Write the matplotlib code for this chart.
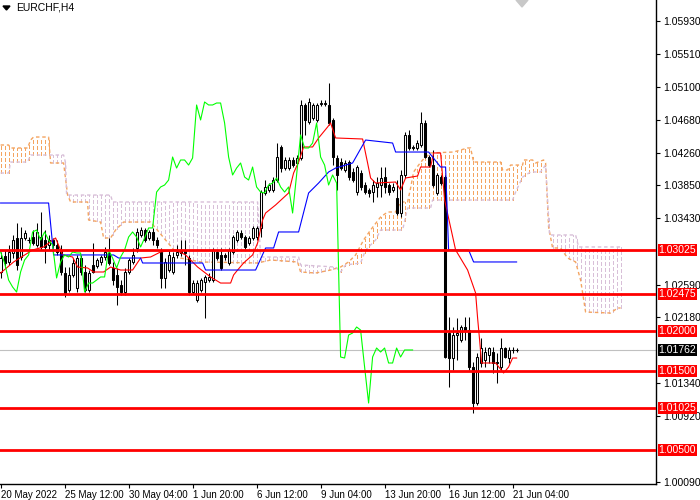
import numpy as np
import matplotlib.pyplot as plt
from matplotlib.transforms import blended_transform_factory

plt.rcParams['font.family'] = ['Liberation Sans', 'DejaVu Sans']

# EURCHF H4 candles, bar 0 = 20 May 2022
opens = [1.02750, 1.02953, 1.02877, 1.02991, 1.03181, 1.02940, 1.03181, 1.03155, 1.03193, 1.03092,
         1.03193, 1.03155, 1.03092, 1.03155, 1.03092, 1.03029, 1.02737, 1.02522, 1.02712, 1.02547,
         1.02927, 1.02750, 1.02522, 1.02839, 1.02826, 1.02877, 1.02940, 1.02991, 1.02801, 1.02712,
         1.02585, 1.02496, 1.02750, 1.02877, 1.03054, 1.03219, 1.03282, 1.03181, 1.03257, 1.03155,
         1.03004, 1.02674, 1.02775, 1.02750, 1.02966, 1.03029, 1.03029, 1.02927, 1.02496, 1.02395,
         1.02522, 1.02623, 1.02648, 1.02648, 1.03004, 1.02966, 1.02966, 1.02864, 1.03004, 1.03155,
         1.03244, 1.03193, 1.03117, 1.03181, 1.03193, 1.03308, 1.03751, 1.03789, 1.03789, 1.03915,
         1.04334, 1.04067, 1.04067, 1.04169, 1.04131, 1.04194, 1.04866, 1.04650, 1.04701, 1.04676,
         1.04879, 1.04879, 1.04866, 1.04676, 1.04194, 1.04143, 1.04042, 1.04143, 1.04017, 1.03763,
         1.04004, 1.03852, 1.03789, 1.03763, 1.03827, 1.03852, 1.03953, 1.03852, 1.03789, 1.03687,
         1.03497, 1.03979, 1.04486, 1.04334, 1.04321, 1.04359, 1.04638, 1.04207, 1.04105, 1.03751,
         1.03953, 1.03953, 1.01977, 1.01660, 1.01951, 1.01888, 1.02053, 1.02015, 1.01546, 1.01090,
         1.01597, 1.01635, 1.01698, 1.01736, 1.01609, 1.01546, 1.01787, 1.01660, 1.01762, 1.01762]
highs = [1.03004, 1.03029, 1.03092, 1.03219, 1.03371, 1.03320, 1.03282, 1.03193, 1.03282, 1.03371,
         1.03510, 1.03282, 1.03219, 1.03181, 1.03155, 1.03092, 1.02813, 1.02813, 1.02927, 1.02966,
         1.02966, 1.02839, 1.02775, 1.03117, 1.02927, 1.02966, 1.03067, 1.03181, 1.02877, 1.02801,
         1.02648, 1.02801, 1.02927, 1.03054, 1.03308, 1.03320, 1.03308, 1.03282, 1.03308, 1.03193,
         1.03054, 1.02927, 1.03029, 1.03004, 1.03092, 1.03155, 1.03155, 1.02966, 1.02648, 1.02648,
         1.02674, 1.02712, 1.02737, 1.03054, 1.03029, 1.03054, 1.02991, 1.03054, 1.03219, 1.03282,
         1.03282, 1.03219, 1.03206, 1.03333, 1.03333, 1.03789, 1.03915, 1.03877, 1.03953, 1.04384,
         1.04359, 1.04207, 1.04207, 1.04207, 1.04232, 1.04929, 1.04891, 1.04954, 1.04891, 1.04891,
         1.04929, 1.04929, 1.05144, 1.04701, 1.04232, 1.04194, 1.04169, 1.04169, 1.04067, 1.04105,
         1.04042, 1.03890, 1.03814, 1.03915, 1.03953, 1.04080, 1.04080, 1.03877, 1.03877, 1.03915,
         1.04042, 1.04524, 1.04549, 1.04359, 1.04422, 1.04777, 1.04676, 1.04232, 1.04296, 1.04004,
         1.03979, 1.03979, 1.02180, 1.02053, 1.02167, 1.02078, 1.02180, 1.02180, 1.01609, 1.01723,
         1.01913, 1.01799, 1.01799, 1.01799, 1.01723, 1.01913, 1.01799, 1.01799, 1.01799, 1.01787]
lows = [1.02674, 1.02801, 1.02839, 1.02927, 1.02775, 1.02902, 1.03155, 1.03117, 1.03092, 1.03067,
        1.03029, 1.02864, 1.03029, 1.03054, 1.02966, 1.02712, 1.02433, 1.02496, 1.02687, 1.02496,
        1.02712, 1.02496, 1.02496, 1.02737, 1.02801, 1.02839, 1.02902, 1.02839, 1.02585, 1.02332,
        1.02459, 1.02459, 1.02724, 1.02851, 1.03004, 1.03193, 1.03130, 1.03155, 1.03092, 1.03054,
        1.02547, 1.02547, 1.02750, 1.02724, 1.02927, 1.02953, 1.02839, 1.02459, 1.02471, 1.02370,
        1.02496, 1.02167, 1.02623, 1.02623, 1.02902, 1.02775, 1.02902, 1.02839, 1.02978, 1.03130,
        1.03168, 1.03041, 1.03092, 1.03155, 1.03155, 1.03193, 1.03725, 1.03763, 1.03763, 1.03890,
        1.04017, 1.04042, 1.04042, 1.04080, 1.04105, 1.04169, 1.04486, 1.04625, 1.04676, 1.04650,
        1.04853, 1.04853, 1.04612, 1.04105, 1.03789, 1.04042, 1.04017, 1.03915, 1.03890, 1.03725,
        1.03789, 1.03738, 1.03700, 1.03637, 1.03700, 1.03700, 1.03751, 1.03725, 1.03763, 1.03472,
        1.03447, 1.03941, 1.04296, 1.04296, 1.04296, 1.04334, 1.04194, 1.04080, 1.03827, 1.03725,
        1.03852, 1.01660, 1.01293, 1.01508, 1.01635, 1.01863, 1.01888, 1.01508, 1.00963, 1.01065,
        1.01546, 1.01546, 1.01597, 1.01470, 1.01343, 1.01508, 1.01660, 1.01597, 1.01723, 1.01736]
closes = [1.02927, 1.02864, 1.03004, 1.03155, 1.02839, 1.03181, 1.03244, 1.03155, 1.03117, 1.03257,
          1.03067, 1.03067, 1.03155, 1.03092, 1.03004, 1.02750, 1.02484, 1.02712, 1.02864, 1.02927,
          1.02750, 1.02522, 1.02737, 1.02750, 1.02902, 1.02940, 1.03004, 1.02864, 1.02648, 1.02560,
          1.02496, 1.02750, 1.02902, 1.02966, 1.03257, 1.03282, 1.03155, 1.03257, 1.03155, 1.03092,
          1.02674, 1.02877, 1.02966, 1.02940, 1.03004, 1.02991, 1.02991, 1.02496, 1.02610, 1.02610,
          1.02648, 1.02687, 1.02687, 1.03029, 1.02927, 1.02801, 1.02940, 1.03029, 1.03193, 1.03257,
          1.03193, 1.03067, 1.03181, 1.03308, 1.03308, 1.03763, 1.03827, 1.03852, 1.03915, 1.04207,
          1.04067, 1.04169, 1.04169, 1.04105, 1.04194, 1.04866, 1.04676, 1.04904, 1.04866, 1.04866,
          1.04891, 1.04891, 1.04638, 1.04207, 1.03979, 1.04067, 1.04131, 1.03953, 1.03915, 1.04080,
          1.03827, 1.03763, 1.03751, 1.03852, 1.03877, 1.03941, 1.03827, 1.03763, 1.03827, 1.03497,
          1.03979, 1.04486, 1.04321, 1.04321, 1.04384, 1.04638, 1.04207, 1.04105, 1.03852, 1.03979,
          1.03877, 1.01673, 1.01660, 1.01951, 1.01977, 1.02053, 1.02015, 1.01546, 1.01090, 1.01673,
          1.01787, 1.01736, 1.01787, 1.01597, 1.01597, 1.01787, 1.01673, 1.01762, 1.01762, 1.01762]

# Ichimoku lines, vertices (bar index, price)
tenkan_bar = [0, 3.25, 8, 10.75, 13.75, 15.5, 18, 19.25, 21.75, 23.25, 25.75, 27.5, 30, 33, 35, 37.5,
              40, 43.75, 46.25, 49.25, 52.5, 55, 57.5, 58.25, 59.25, 60.75, 63, 64.25, 65.5, 66.25,
              68.75, 72, 73.25, 74.5, 75.75, 78, 79.5, 81.75, 82.5, 83.75, 90.5, 91.75, 92.5, 93.75,
              98.75, 100, 101.25, 104.25, 105, 107.5, 108.25, 110, 111, 113.75, 116.75, 118.75,
              119.25, 119.75, 120.25, 123.75, 125.75, 127, 128, 129]
tenkan_val = [1.02737, 1.02877, 1.03029, 1.03067, 1.03181, 1.02966, 1.02940, 1.02813, 1.02801, 1.02750,
              1.02750, 1.02813, 1.02775, 1.02775, 1.02927, 1.02940, 1.03004, 1.03029, 1.02966, 1.02813,
              1.02687, 1.02610, 1.02610, 1.02712, 1.02775, 1.02864, 1.02966, 1.03117, 1.03409, 1.03497,
              1.03599, 1.03751, 1.04004, 1.04143, 1.04334, 1.04334, 1.04448, 1.04587, 1.04638, 1.04448,
              1.04435, 1.04131, 1.03941, 1.03877, 1.03890, 1.03789, 1.03941, 1.03966, 1.04080, 1.04080,
              1.04258, 1.04258, 1.03662, 1.03029, 1.02775, 1.02484, 1.02167, 1.01888, 1.01597, 1.01597,
              1.01470, 1.01546, 1.01660, 1.01660]
kijun_bar = [0, 12, 13.25, 28.25, 29.5, 35, 35.5, 50.5, 51.25, 63.75, 66.25, 68.25, 69.5, 74.5, 77,
             79.5, 82, 83.75, 88, 91.25, 98, 98.75, 107, 110, 111.25, 112, 117, 118.25, 129]
kijun_val = [1.03624, 1.03624, 1.02966, 1.02966, 1.02927, 1.02927, 1.02864, 1.02864, 1.02775, 1.02775,
             1.03054, 1.03054, 1.03257, 1.03257, 1.03751, 1.03877, 1.04017, 1.04067, 1.04131, 1.04422,
             1.04384, 1.04270, 1.04270, 1.04080, 1.04080, 1.03029, 1.03029, 1.02877, 1.02877]
span_a_bar = [0, 2, 2.5, 6.75, 7.5, 8.25, 12, 12.5, 15.75, 16.75, 17.5, 21.75, 22, 25, 25.75, 27.5,
              28.75, 30.75, 37.5, 41.25, 45, 50, 64.25, 67.5, 74.25, 75, 78.75, 82.5, 85, 87, 88.75,
              90.75, 92.5, 95, 96.75, 98.75, 100, 101.75, 102.5, 103.25, 104.5, 105.5, 107.5, 113.25,
              116.75, 117.5, 118.25, 125, 125.5, 126.75, 127.5, 130.5, 130.75, 133, 133.75, 135.75,
              136.25, 137, 138, 140, 141.75, 143.75, 145, 146.25, 152.5, 154.25, 155]
span_a_val = [1.04359, 1.04359, 1.04321, 1.04321, 1.04422, 1.04460, 1.04460, 1.04131, 1.04131, 1.03725,
              1.03637, 1.03637, 1.03409, 1.03383, 1.03181, 1.03181, 1.03282, 1.03383, 1.03383, 1.03155,
              1.02927, 1.02877, 1.02864, 1.02902, 1.02877, 1.02750, 1.02737, 1.02775, 1.02813, 1.02877,
              1.02966, 1.03155, 1.03282, 1.03447, 1.03510, 1.03510, 1.03637, 1.03637, 1.03814, 1.04017,
              1.04105, 1.04169, 1.04258, 1.04270, 1.04321, 1.04321, 1.04143, 1.04143, 1.04042, 1.04042,
              1.04105, 1.04105, 1.04169, 1.04169, 1.04131, 1.04169, 1.04131, 1.03320, 1.03054, 1.03054,
              1.02927, 1.02877, 1.02648, 1.02243, 1.02230, 1.02294, 1.02294]
span_b_bar = [0, 2, 2.5, 6.75, 7.5, 15.75, 16.25, 16.5, 27.5, 28, 64.25, 65, 74.5, 75, 83.75, 85,
              86.25, 90, 91.25, 93.75, 95, 100.5, 101.75, 107.5, 108, 128, 128.75, 130.5, 132.5,
              135, 136.25, 137.25, 143.75, 144.5, 155]
span_b_val = [1.04004, 1.04004, 1.04143, 1.04143, 1.04232, 1.04232, 1.04131, 1.03725, 1.03725, 1.03637,
              1.03637, 1.02940, 1.02940, 1.02839, 1.02813, 1.02750, 1.02839, 1.02864, 1.03029, 1.03155,
              1.03282, 1.03282, 1.03561, 1.03561, 1.03662, 1.03662, 1.03763, 1.03953, 1.04017, 1.04017,
              1.04105, 1.03219, 1.03219, 1.03067, 1.03067]
chikou_shift = 26

levels = [1.03025, 1.02475, 1.02000, 1.01500, 1.01025, 1.00500]
last_price = 1.01762
price_ticks = [1.05930, 1.05510, 1.05100, 1.04680, 1.04260, 1.03850, 1.03430,
               1.02590, 1.02180, 1.01340, 1.00920, 1.00090]
date_bars = [0, 16, 32, 48, 64, 80, 96, 112, 128]
date_labels = ['20 May 2022', '25 May 12:00', '30 May 04:00', '1 Jun 20:00', '6 Jun 12:00',
               '9 Jun 04:00', '13 Jun 20:00', '16 Jun 12:00', '21 Jun 04:00']

fig = plt.figure(figsize=(7, 5), dpi=100)
ax = fig.add_axes([0, 16 / 500, 656 / 700, 484 / 500])

o = np.array(opens)
h = np.array(highs)
l = np.array(lows)
c = np.array(closes)
idx = np.arange(len(o))

# kumo cloud: one dashed stroke per bar between the two spans
cx = np.arange(0, int(span_a_bar[-1]) + 1)
sa = np.interp(cx, span_a_bar, span_a_val)
sb = np.interp(cx, span_b_bar, span_b_val)
bull = sa >= sb
dash = (0, (2.5, 2))
ax.vlines(cx[bull], sb[bull], sa[bull], colors='#F4A460', linestyles=dash, lw=1.0,
          antialiased=False, zorder=1)
ax.vlines(cx[~bull], sa[~bull], sb[~bull], colors='#D8BFD8', linestyles=dash, lw=1.0,
          antialiased=False, zorder=1)
ax.plot(span_a_bar, span_a_val, color='#F4A460', ls=dash, lw=1.0, zorder=1)
ax.plot(span_b_bar, span_b_val, color='#D8BFD8', ls=dash, lw=1.0, zorder=1)

ax.axhline(last_price, color='#C0C0C0', lw=0.8, zorder=1.5)

# candles
ax.vlines(idx, l, h, color='black', lw=0.75, zorder=2)
up = c >= o
lo = np.minimum(o, c)
ht = np.abs(c - o)
ax.bar(idx[up], ht[up], bottom=lo[up], width=0.55, facecolor='white', edgecolor='black',
       lw=0.75, zorder=2.1)
ax.bar(idx[~up], ht[~up], bottom=lo[~up], width=0.55, facecolor='black', edgecolor='black',
       lw=0.75, zorder=2.1)
doji = ht < 0.00003
ax.hlines(c[doji], idx[doji] - 0.4, idx[doji] + 0.4, color='black', lw=0.75, zorder=2.2)

# tenkan, kijun, chikou
ax.plot(tenkan_bar, tenkan_val, color='red', lw=0.8, zorder=3)
ax.plot(kijun_bar, kijun_val, color='blue', lw=0.8, zorder=3)
ax.plot(idx[:-chikou_shift], c[chikou_shift:], color='#00FF00', lw=0.8, zorder=3)

# support / resistance levels
trans = blended_transform_factory(ax.transAxes, ax.transData)
for lv in levels:
    ax.axhline(lv, color='red', lw=2, zorder=4)
    ax.text(1.004, lv, f'{lv:.5f}', transform=trans, color='white', fontsize=7.5,
            va='center', ha='left', clip_on=False,
            bbox=dict(boxstyle='square,pad=0.1', fc='red', ec='none'))
ax.text(1.004, last_price, f'{last_price:.5f}', transform=trans, color='white', fontsize=7.5,
        va='center', ha='left', clip_on=False,
        bbox=dict(boxstyle='square,pad=0.1', fc='black', ec='none'))

ax.set_xlim(-0.15, 163.85)
ax.set_ylim(1.00064, 1.06196)

ax.yaxis.tick_right()
ax.set_yticks(price_ticks)
ax.set_yticklabels([f'{p:.5f}' for p in price_ticks])
ax.tick_params(axis='y', length=3, width=0.8, pad=2, labelsize=7.5, colors='black')
ax.set_xticks(date_bars)
ax.set_xticklabels(date_labels, ha='left')
ax.tick_params(axis='x', length=3, width=0.8, pad=1, labelsize=7)

for side in ['top', 'left']:
    ax.spines[side].set_visible(False)
for side in ['right', 'bottom']:
    ax.spines[side].set_linewidth(1)

# header and chart shift marker
fig.patches.append(plt.Polygon([(3 / 700, 1 - 6 / 500), (10 / 700, 1 - 6 / 500), (6.5 / 700, 1 - 10 / 500)],
                               closed=True, color='black', transform=fig.transFigure))
fig.text(16 / 700, 1 - 8 / 500, 'EURCHF,H4', fontsize=7.5, va='center', ha='left')
fig.patches.append(plt.Polygon([(516 / 700, 1.0), (528 / 700, 1.0), (522 / 700, 1 - 7 / 500)],
                               closed=True, color='#C8C8C8', transform=fig.transFigure))

fig.savefig('out.png', dpi=100)
